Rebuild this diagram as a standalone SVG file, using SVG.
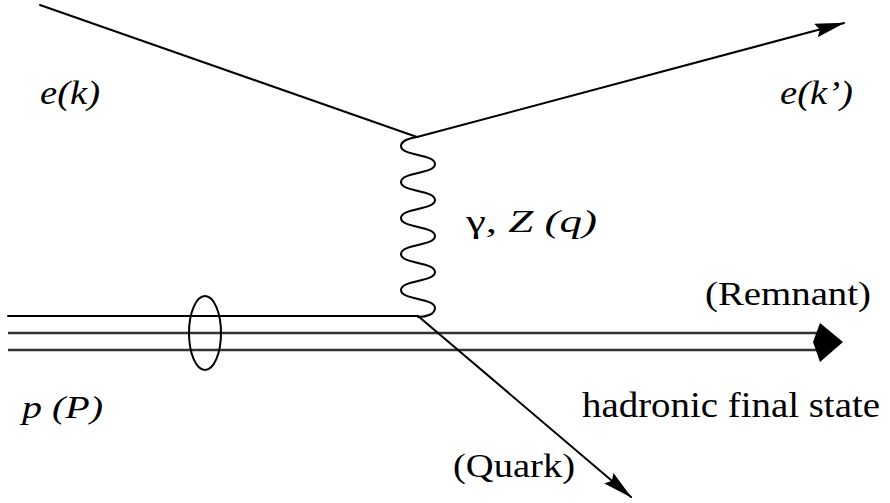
<svg xmlns="http://www.w3.org/2000/svg" width="890" height="503" viewBox="0 0 890 503">
  <style>
    .ln { fill: none; stroke: #000; stroke-width: 2; stroke-linecap: round; }
    .pr { fill: none; stroke: #333; stroke-width: 2.6; }
    .lbl { font-family: 'Liberation Serif', 'DejaVu Serif', serif; fill: #000; }
    .it { font-style: italic; }
  </style>
  <defs>
    <marker id="arr" markerUnits="userSpaceOnUse" viewBox="0 0 30 14" refX="29" refY="7" markerWidth="30" markerHeight="14" orient="auto">
      <path d="M0,0 L30,7 L0,14 L4,7 Z" fill="#000"/>
    </marker>
  </defs>
  <rect width="890" height="503" fill="#fff"/>

  <g id="connectors">
    <path id="e-in" class="ln" d="M40,5 L417,137"/>
    <path id="e-out" class="ln" d="M417,137 L844,23" marker-end="url(#arr)"/>
    <path id="boson" class="ln" d="M417,137 C409,138 401,141 401,146 C401,156 435,154 435,164 S401,172 401,182 S435,190 435,200 S401,208 401,218 S435,226 435,236 S401,244 401,254 S435,262 435,272 S401,280 401,290 S435,298 435,308 C435,314 427,317 418,317"/>
    <path id="p-top" class="ln" d="M8,316 L418,316" stroke-linecap="butt"/>
    <path id="p-mid" class="pr" d="M8,333 L822,333"/>
    <path id="p-bot" class="pr" d="M8,350 L822,350"/>
    <polygon id="remnant-head" points="820,323 843,342 820,362 813,342" fill="#000"/>
    <path id="quark" class="ln" d="M418,316 L631,497" marker-end="url(#arr)"/>
    <ellipse id="proton-ring" cx="205" cy="333" rx="16" ry="37" fill="none" stroke="#000" stroke-width="2"/>
  </g>

  <g id="labels">
    <g id="label-ek"><text class="lbl it" x="40" y="104" font-size="33" textLength="60" lengthAdjust="spacingAndGlyphs">e(k)</text></g>
    <g id="label-ekp"><text class="lbl it" x="780" y="104" font-size="33" textLength="73" lengthAdjust="spacingAndGlyphs">e(k’)</text></g>
    <g id="label-boson"><text class="lbl" x="466" y="232" font-size="31" textLength="131" lengthAdjust="spacingAndGlyphs">γ, <tspan class="it">Z</tspan>  <tspan class="it">(q)</tspan></text></g>
    <g id="label-remnant"><text class="lbl" x="705" y="305" font-size="34" textLength="166" lengthAdjust="spacingAndGlyphs">(Remnant)</text></g>
    <g id="label-hfs"><text class="lbl" x="582" y="417" font-size="35" textLength="298" lengthAdjust="spacingAndGlyphs">hadronic final state</text></g>
    <g id="label-pP"><text class="lbl it" x="22" y="418" font-size="32" textLength="81" lengthAdjust="spacingAndGlyphs">p (P)</text></g>
    <g id="label-quark"><text class="lbl" x="453" y="477" font-size="34" textLength="122" lengthAdjust="spacingAndGlyphs">(Quark)</text></g>
  </g>
</svg>
